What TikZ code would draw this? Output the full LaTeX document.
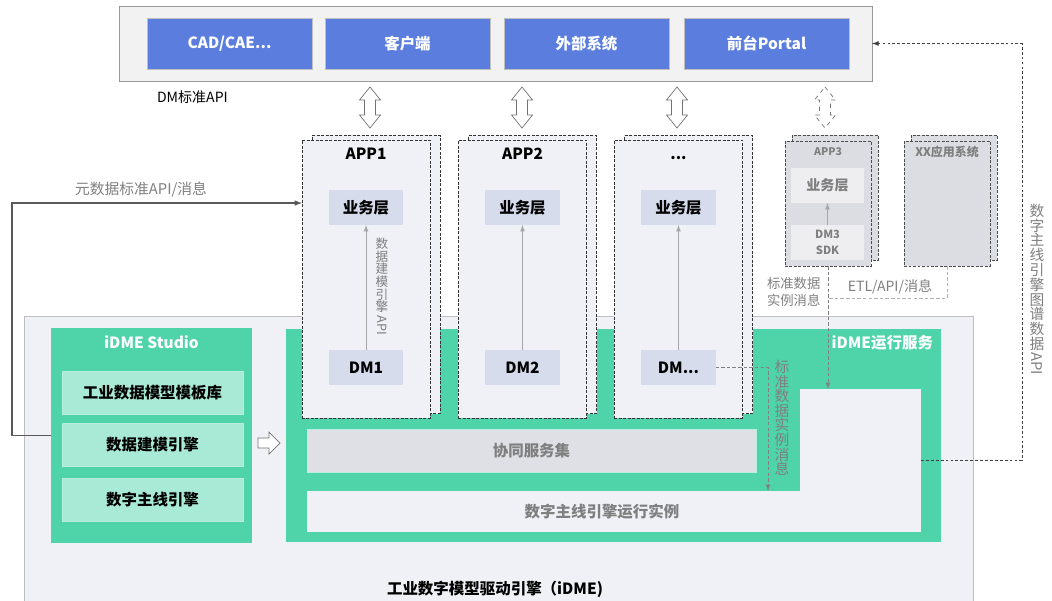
\documentclass[tikz,border=0pt]{standalone}
\usepackage{fontspec}
\setmainfont{Noto Sans CJK SC}
\usetikzlibrary{calc,arrows,positioning}
\definecolor{appblue}{HTML}{5B7EDE}
\definecolor{idmegreen}{HTML}{4FD4A9}
\definecolor{toolgreen}{HTML}{A8EAD5}
\definecolor{panel}{HTML}{F0F1F7}
\definecolor{layer}{HTML}{D6DCEC}
\definecolor{greytxt}{HTML}{7F7F7F}
\definecolor{frameback}{HTML}{F2F2F2}
\definecolor{sysgrey}{HTML}{DCDDE2}
\definecolor{sysinner}{HTML}{EEEEF0}
\definecolor{cobox}{HTML}{DFE0E5}
\newcommand{\fsz}[1]{\fontsize{#1}{#1}\selectfont}
\newcommand{\appdots}{...}

\begin{document}
\begin{tikzpicture}[>=latex, x=0.025cm, y=-0.025cm, line width=0.6pt,
    every node/.style={inner sep=0pt, outer sep=0pt},
    bluebox/.style={draw=black!25, fill=appblue, minimum width=4.125cm, minimum height=1.275cm, text=white, font=\fsz{11}\bfseries},
    appback/.style={draw=black!80, dash pattern=on 2pt off 1.2pt, fill=panel, minimum width=3.2cm, minimum height=6.95cm},
    appfront/.style={appback},
    layerbox/.style={fill=layer, minimum width=1.85cm, minimum height=0.875cm, font=\fsz{11}\bfseries},
    sysback/.style={draw=black!70, dash pattern=on 2pt off 1.2pt, fill=sysgrey, minimum width=2.15cm, minimum height=3.125cm},
    syslayer/.style={fill=sysinner, minimum width=1.825cm, minimum height=0.875cm, text=greytxt, font=\fsz{10}\bfseries},
    greenbox/.style={fill=idmegreen},
    toolbox/.style={draw=white!60!idmegreen, fill=toolgreen, minimum width=4.525cm, minimum height=1.075cm, font=\fsz{11}\bfseries},
    hollow/.style={draw=black!55, fill=white, line width=0.5pt},
    greytext/.style={text=greytxt, font=\fsz{10}},
    vtext/.style={text=greytxt, align=center, anchor=north},
    sideways/.style={text=greytxt, rotate=-90, anchor=west},
    grayline/.style={draw=black!50, dash pattern=on 2.5pt off 1.5pt},
    darkdash/.style={draw=black!75, dash pattern=on 2pt off 1.5pt},
  ]

    \useasboundingbox (0,0) rectangle (1052,600);

    % iDME
    \node[draw=black!25, fill=panel, minimum width=23.7cm, minimum height=7.6cm] (idme) at (499,468) {};
    \node[font=\fsz{11}\bfseries] (idmetitle) at (495,589) {工业数字模型驱动引擎（iDME)};

    % studio
    \node[greenbox, minimum width=5.025cm, minimum height=5.375cm] (studio) at (151.5,435.5) {};
    \node[text=white, font=\fsz{11}\bfseries] (studiotitle) at (151.5,342) {iDME Studio};
    \node[toolbox] (tplib) at (152.5,392.5) {工业数据模型模板库};
    \node[toolbox] (modeng) at (152.5,445) {数据建模引擎};
    \node[toolbox] (threng) at (152.5,499.5) {数字主线引擎};
    \draw[hollow] (258,438) -- (269,438) -- (269,432) -- (280,443) -- (269,454) -- (269,448) -- (258,448) -- cycle;

    % runtime
    \node[greenbox, minimum width=16.375cm, minimum height=5.325cm] (runtime) at (613.5,435.5) {};
    \node[text=white, font=\fsz{11}\bfseries, anchor=east] (runtitle) at (933,343) {iDME运行服务};
    \node[fill=cobox, draw=white!60!idmegreen, minimum width=11.225cm, minimum height=1.075cm, text=greytxt, font=\fsz{11}\bfseries] (coop) at (531.5,450.5) {协同服务集};
    \node[fill=panel, minimum width=15.35cm, minimum height=1.025cm] (instbar) at (614,511.5) {};
    \node[fill=panel, minimum width=3.025cm, minimum height=3.575cm] (instcol) at (860.5,460.5) {};
    \node[text=greytxt, font=\fsz{11}\bfseries] (instlabel) at (602,512) {数字主线引擎运行实例};

    % apps
    \foreach \x/\name/\dm [count=\n] in {366/APP1/DM1, 522.5/APP2/DM2, 678.5/\appdots/DM\appdots}{
      \node[appback] (appb\n) at (\x+10,274.5) {};
      \node[appfront] (app\n) at (\x,279) {};
      \node[font=\fsz{11}\bfseries, anchor=base] (apptitle\n) at (\x,159.5) {\name};
      \node[layerbox] (biz\n) at (\x,207.5) {业务层};
      \node[layerbox] (dm\n) at (\x,367.5) {\dm};
      \draw[->, black!35] (dm\n) -- (biz\n);
    }
    \node[vtext, font=\fsz{9}] (apilabel) at (382,238) {数\\据\\建\\模\\引\\擎};
    \node[sideways, font=\fsz{9}] (apisuffix) at ($(apilabel.south)+(0,3)$) {API};

    \draw[grayline, ->] (dm3.east) -| (768,0 |- instbar.north);
    \node[vtext, font=\fontsize{10.5}{10.4}\selectfont] (stdmsg) at (782,360) {标\\准\\数\\据\\实\\例\\消\\息};

    % APP3, XX
    \node[sysback] (sdkappb) at (835,197.5) {};
    \node[sysback] (sdkapp) at (828,203.5) {};
    \node[font=\fsz{7.5}\bfseries, text=greytxt] (sdktitle) at (828,152) {APP3};
    \node[syslayer] (biz4) at (827.5,185.5) {业务层};
    \node[syslayer, align=center, font=\fontsize{8}{11}\selectfont\bfseries] (sdk4) at (827.5,242.5) {DM3\\SDK};
    \draw[->, black!35] (sdk4) -- (biz4);
    \node[sysback] (xxb) at (954,197.5) {};
    \node[sysback] (xx) at (947,203.5) {};
    \node[font=\fsz{8.5}\bfseries, text=greytxt] (xxtitle) at (947,152) {XX应用系统};

    \draw[grayline, ->] (sdkapp.south) -- (sdkapp.south |- instcol.north);
    \draw[grayline, black!30] (xx.south) |- (sdkapp.south |- 0,298);
    \node[greytext] (etl) at (890,287) {ETL/API/消息};
    \node[greytext, align=left, anchor=west, font=\fontsize{9.5}{12}\selectfont] (stdlabel) at (767,291.5) {标准数据\\实例消息};

    % top
    \node[draw=black!40, fill=frameback, minimum width=18.8cm, minimum height=1.875cm] (frame) at (496,43.5) {};
    \foreach \x/\txt [count=\n] in {229.5/{CAD/CAE\appdots}, 407.5/客户端, 586.5/外部系统, 766.5/前台Portal}{
      \node[bluebox] (client\n) at (\x,43.5) {\txt};
    }
    \node[anchor=west, font=\fsz{10}] (dmapi) at (157,97) {DM标准API};

    \foreach \x/\ls in {370/solid, 522/solid, 677/solid, 825/dashed}{
      \draw[hollow, \ls] (\x,87) -- (\x+10.5,100) -- (\x+5.5,100) -- (\x+5.5,115) -- (\x+10.5,115) -- (\x,128)
        -- (\x-10.5,115) -- (\x-5.5,115) -- (\x-5.5,100) -- (\x-10.5,100) -- cycle;
    }

    % links
    \draw[darkdash, ->] (instcol.east) -- (1022,460.5) |- (frame.east);
    \node[vtext, font=\fontsize{10.5}{10.5}\selectfont] (graphapi) at (1037,204) {数\\字\\主\\线\\引\\擎\\图\\谱\\数\\据};
    \node[sideways, font=\fsz{10.5}] (graphsuffix) at ($(graphapi.south)+(0,2)$) {API};

    \draw[black!65, line width=0.8pt, ->] (studio.west) -- (12,435.5) |- (app1.west |- 0,203);
    \node[greytext, font=\fsz{10.5}] (metalabel) at (141,190) {元数据标准API/消息};

\end{tikzpicture}
\end{document}
